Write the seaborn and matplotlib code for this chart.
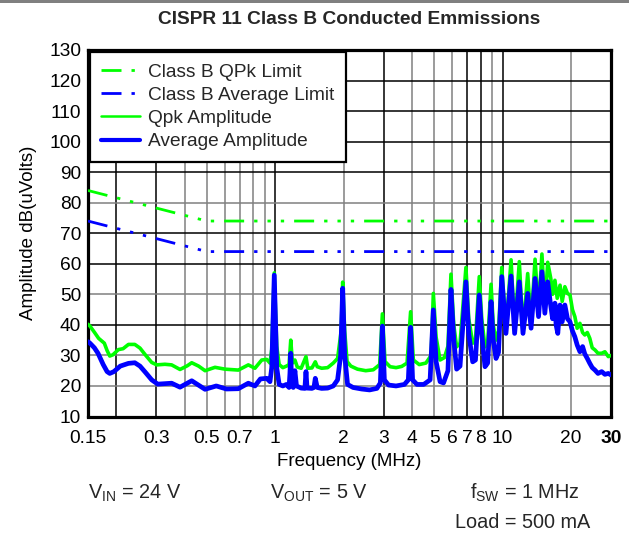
import matplotlib
matplotlib.use('Agg')
import matplotlib.pyplot as plt
import seaborn as sns
import pandas as pd
from matplotlib.patches import Rectangle
from matplotlib.ticker import NullLocator

# Limit lines (MHz, dBuV)
qpk_limit_freq = [0.15, 0.5, 30.0]
qpk_limit_db = [84, 74, 74]
avg_limit_freq = [0.15, 0.5, 30.0]
avg_limit_db = [74, 64, 64]

# Quasi-peak amplitude trace
qpk_freq = [0.150, 0.153, 0.160, 0.167, 0.177, 0.182, 0.187, 0.193, 0.204, 0.214,
            0.226, 0.241, 0.254, 0.268, 0.286, 0.301, 0.327, 0.350, 0.381, 0.410,
            0.429, 0.460, 0.491, 0.543, 0.601, 0.688, 0.761, 0.814, 0.872, 0.917,
            0.948, 0.965, 0.990, 1.015, 1.040, 1.080, 1.120, 1.150, 1.170, 1.190,
            1.220, 1.250, 1.300, 1.365, 1.390, 1.450, 1.500, 1.530, 1.600, 1.700,
            1.800, 1.880, 1.950, 1.980, 2.020, 2.070, 2.150, 2.300, 2.500, 2.700,
            2.880, 2.960, 3.040, 3.200, 3.400, 3.600, 3.800, 3.940, 4.050, 4.300,
            4.600, 4.850, 4.960, 5.100, 5.310, 5.550, 5.750, 5.930, 6.100, 6.280,
            6.500, 6.900, 7.100, 7.390, 7.600, 7.900, 8.100, 8.370, 8.600, 8.900,
            9.100, 9.360, 9.600, 9.920, 10.35, 10.90, 11.30, 11.85, 12.30, 12.90,
            13.35, 13.90, 14.40, 14.90, 15.35, 15.80, 16.30, 16.60, 17.00, 17.40,
            17.90, 18.30, 18.80, 19.30, 19.80, 20.30, 20.80, 21.30, 21.90, 22.50,
            23.00, 23.60, 24.20, 24.80, 25.50, 26.30, 27.30, 28.20, 29.20, 30.00]
qpk_db = [40.2, 39.6, 37.6, 35.6, 34.0, 31.6, 29.8, 30.2, 31.9, 32.2,
          33.6, 33.6, 32.4, 30.2, 27.7, 26.9, 27.1, 26.9, 25.4, 26.6,
          27.6, 26.5, 25.0, 26.1, 25.5, 25.2, 26.9, 25.8, 28.5, 28.7,
          27.5, 32.0, 57.0, 33.0, 27.0, 26.0, 26.5, 27.0, 35.0, 27.5,
          28.5, 26.2, 25.8, 29.6, 25.8, 25.9, 27.9, 26.3, 25.8, 26.0,
          27.5, 29.0, 38.0, 54.0, 38.0, 28.0, 26.5, 25.5, 25.0, 25.3,
          27.0, 43.6, 28.0, 26.3, 26.0, 26.4, 27.5, 44.3, 28.5, 27.0,
          27.5, 30.0, 50.3, 36.0, 28.5, 29.3, 33.0, 56.6, 40.0, 32.8,
          34.0, 58.8, 42.0, 34.0, 35.0, 55.8, 42.0, 32.8, 34.0, 53.3,
          40.0, 35.0, 38.0, 58.8, 38.3, 61.3, 38.3, 60.7, 37.8, 56.8,
          40.5, 61.5, 44.3, 63.2, 45.4, 60.5, 55.2, 50.0, 54.6, 48.7,
          53.0, 47.7, 52.5, 50.3, 49.8, 45.0, 42.7, 38.9, 40.5, 37.5,
          36.7, 37.5, 35.6, 32.5, 31.8, 30.7, 30.7, 31.2, 29.6, 30.0]

# Average amplitude trace
avg_freq = [0.150, 0.153, 0.160, 0.166, 0.175, 0.182, 0.187, 0.195, 0.208, 0.226,
            0.241, 0.254, 0.268, 0.286, 0.304, 0.350, 0.381, 0.429, 0.491, 0.550,
            0.610, 0.688, 0.761, 0.814, 0.860, 0.917, 0.948, 0.965, 0.990, 1.015,
            1.040, 1.080, 1.120, 1.150, 1.160, 1.170, 1.180, 1.200, 1.220, 1.240,
            1.300, 1.350, 1.365, 1.380, 1.450, 1.480, 1.500, 1.530, 1.600, 1.700,
            1.800, 1.880, 1.940, 1.980, 2.020, 2.080, 2.200, 2.400, 2.600, 2.800,
            2.900, 2.960, 3.020, 3.150, 3.400, 3.700, 3.850, 3.940, 4.020, 4.200,
            4.500, 4.800, 4.960, 5.100, 5.310, 5.500, 5.750, 5.930, 6.100, 6.280,
            6.500, 6.900, 7.100, 7.390, 7.600, 7.900, 8.100, 8.370, 8.600, 8.900,
            9.100, 9.360, 9.600, 9.920, 10.35, 10.90, 11.30, 11.85, 12.30, 12.90,
            13.35, 13.90, 14.40, 14.90, 15.35, 15.80, 16.20, 16.60, 17.00, 17.20,
            17.50, 17.90, 18.30, 18.80, 19.30, 19.80, 20.30, 20.80, 21.30, 21.90,
            22.50, 23.00, 23.60, 24.20, 24.80, 25.50, 26.30, 27.30, 28.20, 29.20,
            30.00]
avg_db = [34.5, 34.0, 32.5, 30.7, 27.0, 24.7, 24.1, 24.7, 26.5, 27.4,
          27.6, 26.5, 24.5, 22.0, 20.6, 20.9, 19.6, 21.7, 18.9, 20.0,
          19.0, 19.1, 20.9, 20.0, 22.3, 22.5, 21.4, 26.0, 56.3, 26.0,
          20.5, 20.0, 20.5, 19.5, 24.0, 30.7, 21.0, 19.5, 25.0, 20.0,
          19.3, 19.2, 24.7, 19.3, 19.2, 19.5, 22.5, 19.5, 19.2, 19.3,
          20.0, 22.0, 30.0, 52.0, 30.0, 20.5, 19.5, 19.0, 18.7, 19.2,
          21.0, 39.6, 22.0, 20.3, 20.0, 20.5, 22.0, 39.2, 22.0, 20.5,
          20.5, 22.0, 44.9, 28.0, 21.4, 21.0, 25.0, 51.6, 35.0, 25.5,
          26.5, 54.1, 37.0, 27.9, 28.5, 49.8, 37.0, 26.3, 27.5, 47.6,
          35.0, 29.0, 31.0, 55.8, 37.2, 56.0, 37.2, 54.1, 37.2, 50.3,
          38.9, 55.2, 42.7, 57.4, 43.8, 54.1, 47.6, 42.0, 47.1, 40.0,
          37.2, 46.5, 41.0, 46.5, 42.0, 41.0, 38.0, 36.1, 33.4, 31.2,
          32.9, 30.5, 29.0, 27.4, 26.0, 25.2, 24.1, 24.7, 23.8, 24.1,
          23.6]

x_ticks = [0.15, 0.3, 0.5, 0.7, 1, 2, 3, 4, 5, 6, 7, 8, 10, 20, 30]
x_tick_labels = ['0.15', '0.3', '0.5', '0.7', '1', '2', '3', '4', '5', '6', '7', '8', '10', '20', '30']
y_ticks = list(range(10, 131, 10))

# Grid lines (reference mixes black and grey lines)
v_grid = [0.2, 0.3, 0.4, 0.5, 0.6, 0.7, 0.8, 0.9, 1, 2, 3, 4, 5, 6, 7, 8, 9, 10, 20]
v_grid_dark = [0.2, 0.3, 1, 3, 7, 8, 10]
h_grid = [20, 30, 40, 50, 60, 70, 80, 90, 100, 110, 120]
h_grid_dark = [40, 60, 70, 90, 100, 110, 120]

sns.set_theme(style='white')
plt.rcParams['font.family'] = ['Liberation Sans', 'DejaVu Sans']

GREEN = '#00ff00'
BLUE = '#0000ff'
GREY = '#808080'

fig = plt.figure(figsize=(6.29, 5.35), dpi=100)
ax = fig.add_axes([88 / 629, 1 - 416.5 / 535, 523 / 629, 366.5 / 535])

for f in v_grid:
    ax.axvline(f, color='black' if f in v_grid_dark else GREY, lw=1.1, zorder=1)
for v in h_grid:
    ax.axhline(v, color='black' if v in h_grid_dark else GREY, lw=1.1, zorder=1)

limit_dash = (0, (7.2, 3.6, 1.2, 3.6, 1.2, 3.6, 1.2, 3.6))
sns.lineplot(x=qpk_limit_freq, y=qpk_limit_db, ax=ax, color=GREEN, linewidth=2.0,
             linestyle=limit_dash, label='Class B QPk Limit', estimator=None, sort=False, zorder=3)
sns.lineplot(x=avg_limit_freq, y=avg_limit_db, ax=ax, color=BLUE, linewidth=2.0,
             linestyle=limit_dash, label='Class B Average Limit', estimator=None, sort=False, zorder=3)

qpk_df = pd.DataFrame({'freq': qpk_freq, 'db': qpk_db})
avg_df = pd.DataFrame({'freq': avg_freq, 'db': avg_db})
sns.lineplot(data=qpk_df, x='freq', y='db', ax=ax, color=GREEN, linewidth=2.6,
             label='Qpk Amplitude', estimator=None, sort=False, zorder=4)
sns.lineplot(data=avg_df, x='freq', y='db', ax=ax, color=BLUE, linewidth=3.4,
             label='Average Amplitude', estimator=None, sort=False, zorder=5)

ax.set_xscale('log')
ax.set_xlim(0.15, 30)
ax.set_ylim(10, 130)
ax.set_xticks(x_ticks)
ax.set_xticklabels(x_tick_labels)
ax.xaxis.set_minor_locator(NullLocator())
ax.set_yticks(y_ticks)
ax.tick_params(axis='both', length=0, labelsize=13.8, colors='black')
ax.tick_params(axis='x', pad=10)
ax.tick_params(axis='y', pad=5)
ax.get_xticklabels()[-1].set_fontweight('bold')

for side in ['left', 'right', 'top', 'bottom']:
    ax.spines[side].set_color('black')
    ax.spines[side].set_linewidth(2.3)

ax.set_xlabel('Frequency (MHz)', fontsize=13.5, labelpad=4, color='black')
ax.set_ylabel('Amplitude dB(uVolts)', fontsize=13.5, labelpad=9, color='black')

leg = ax.legend(loc='upper left', bbox_to_anchor=(0.0, 1.0), fontsize=13.8, frameon=True,
                fancybox=False, edgecolor='black', framealpha=1, borderaxespad=0.1,
                handlelength=2.0, labelspacing=0.3, borderpad=0.6, handletextpad=0.45)
leg.get_frame().set_linewidth(1.6)
leg.set_zorder(10)
leg_lines = leg.get_lines()
leg_lines[2].set_linewidth(1.8)
leg_lines[3].set_linewidth(3.0)

fig.text(349 / 629, 1 - 19 / 535, 'CISPR 11 Class B Conducted Emmissions',
         ha='center', va='center', fontsize=13.8, fontweight='bold')

fig.text(88 / 629, 1 - 493 / 535, r'$\mathregular{V_{IN}}$ = 24 V', ha='left', va='center', fontsize=14.3)
fig.text(270 / 629, 1 - 493 / 535, r'$\mathregular{V_{OUT}}$ = 5 V', ha='left', va='center', fontsize=14.3)
fig.text(470 / 629, 1 - 493 / 535, r'$\mathregular{f_{SW}}$ = 1 MHz', ha='left', va='center', fontsize=14.3)
fig.text(455 / 629, 1 - 523 / 535, 'Load = 500 mA', ha='left', va='center', fontsize=14.3)

fig.add_artist(Rectangle((0, 1 - 3 / 535), 1, 3 / 535, transform=fig.transFigure,
                         color=GREY, lw=0))

fig.savefig('out.png', dpi=100)
